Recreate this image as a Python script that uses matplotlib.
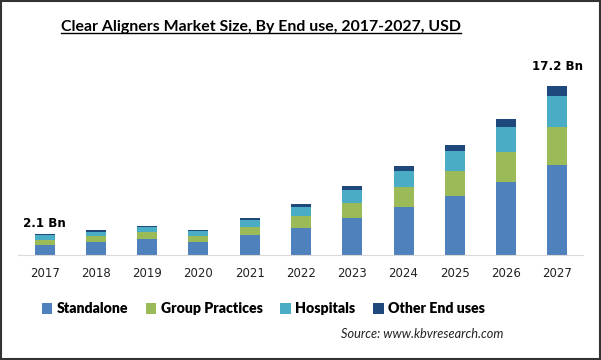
import numpy as np
import matplotlib
matplotlib.use("Agg")
import matplotlib.pyplot as plt
from matplotlib.patches import Rectangle
from matplotlib.lines import Line2D

# data (USD Bn)
years = ["2017", "2018", "2019", "2020", "2021", "2022", "2023", "2024", "2025", "2026", "2027"]
standalone = [1.05, 1.32, 1.63, 1.32, 2.03, 2.75, 3.76, 4.88, 6.00, 7.43, 9.16]
group_practices = [0.52, 0.61, 0.71, 0.61, 0.81, 1.22, 1.53, 2.07, 2.54, 3.05, 3.87]
hospitals = [0.42, 0.44, 0.51, 0.51, 0.71, 0.95, 1.36, 1.60, 2.07, 2.54, 3.15]
other_end_uses = [0.11, 0.17, 0.12, 0.12, 0.20, 0.27, 0.37, 0.51, 0.58, 0.81, 1.02]
series_names = ["Standalone", "Group Practices", "Hospitals", "Other End uses"]
colors = ["#4F81BD", "#9BBB59", "#4BACC6", "#1F497D"]
end_labels = {0: "2.1 Bn", 10: "17.2 Bn"}

fig = plt.figure(figsize=(6.01, 3.6), dpi=100)
ax = fig.add_axes([0.030, 0.2917, 0.940, 0.514])

x = np.arange(len(years))
bottom = np.zeros(len(years))
handles = []
for name, vals, c in zip(series_names, [standalone, group_practices, hospitals, other_end_uses], colors):
    b = ax.bar(x, vals, width=0.39, bottom=bottom, color=c, label=name)
    handles.append(b)
    bottom += np.array(vals)

totals = bottom
for i, txt in end_labels.items():
    off = 3 if i == 0 else 9
    ax.annotate(txt, (x[i], totals[i]), xytext=(0, off), textcoords="offset points",
                ha="center", va="bottom", fontsize=8.6, fontweight="bold",
                family="DejaVu Sans", annotation_clip=False)

ax.set_xlim(-0.52, 10.5)
ax.set_ylim(0, 18.8)
ax.set_xticks(x)
ax.set_xticklabels(years, fontsize=8.5, family="DejaVu Sans", color="#222222")
ax.tick_params(axis="x", length=0, pad=9)
ax.set_yticks([])
for s in ["top", "right", "left"]:
    ax.spines[s].set_visible(False)
ax.spines["bottom"].set_color("#D9D9D9")
ax.patch.set_alpha(0)

# title with underline
title = fig.text(0.435, 0.924, "Clear Aligners Market Size, By End use, 2017-2027, USD",
                 ha="center", va="center", fontsize=11.4, fontweight="bold", family="Lato")

leg = fig.legend(handles=handles, labels=series_names, loc="center", bbox_to_anchor=(0.438, 0.142),
                 ncol=4, frameon=False, handlelength=0.75, handleheight=0.75, handletextpad=0.3,
                 columnspacing=1.25, prop={"family": "Lato", "weight": "heavy", "size": 10.2})

fig.text(0.838, 0.072, "Source: www.kbvresearch.com", ha="right", va="center",
         fontsize=9.2, style="italic", family="Lato", color="#222222")

fig.canvas.draw()
bb = title.get_window_extent().transformed(fig.transFigure.inverted())
fig.add_artist(Line2D([bb.x0, bb.x1], [bb.y0 + 0.004, bb.y0 + 0.004], transform=fig.transFigure,
                      color="black", lw=1.0))

fig.add_artist(Rectangle((0.001, 0.002), 0.997, 0.995, transform=fig.transFigure,
                         fill=False, edgecolor="#333333", lw=1.5))

fig.savefig("out.png", dpi=100)
